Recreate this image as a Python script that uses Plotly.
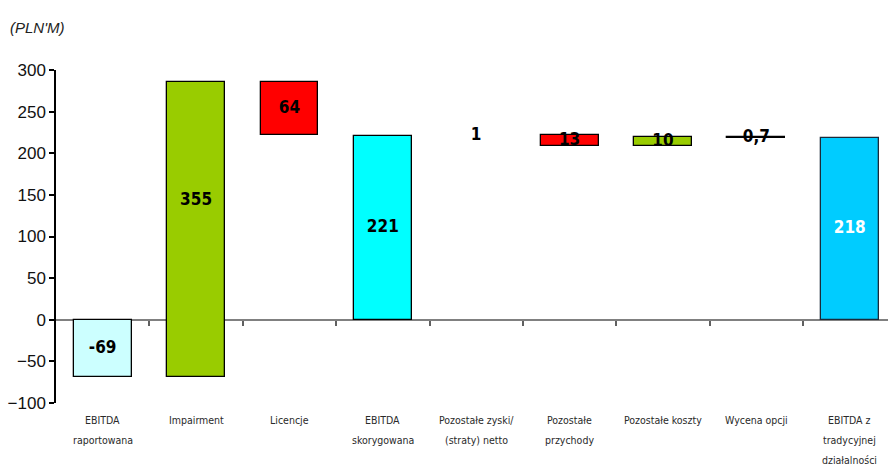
import plotly.graph_objects as go

categories = ["EBITDA<br>raportowana", "Impairment", "Licencje", "EBITDA<br>skorygowana",
              "Pozostałe zyski/<br>(straty) netto", "Pozostałe<br>przychody", "Pozostałe koszty",
              "Wycena opcji", "EBITDA z<br>tradycyjnej<br>działalności"]
values = [-69, 355, -64, 221, 1, -13, 10, -0.7, 218]
kinds = ["total", "relative", "relative", "total", "relative", "relative", "relative", "relative", "total"]
value_labels = ["-69", "355", "64", "221", "1", "13", "10", "0,7", "218"]
fill_colors = ["#CCFFFF", "#99CC00", "#FF0000", "#00FFFF", "rgba(0,0,0,0)", "#FF0000", "#99CC00", "#000000", "#00CCFF"]
line_colors = ["#000000", "#000000", "#000000", "#000000", "rgba(0,0,0,0)", "#000000", "#000000", "#000000", "#1a2a3a"]
label_colors = ["#000000"] * 8 + ["#FFFFFF"]

y_min, y_max, y_step = -100, 300, 50

NARROW = "Liberation Sans Narrow, Arial Narrow, DejaVu Sans Condensed, sans-serif"
SANS = "Liberation Sans, Arial, sans-serif"

# waterfall geometry from data
bases, heights, mids = [], [], []
running = 0.0
for v, k in zip(values, kinds):
    if k == "total":
        b, h = 0.0, v
        running = v
    else:
        b, h = running, v
        running += v
    lo, hi = sorted([b, b + h])
    if lo < 0 < hi:
        lo = 0
    bases.append(b)
    heights.append(h)
    mids.append((lo + hi) / 2)

xs = list(range(len(categories)))
boundaries = [i + 0.5 for i in xs]

fig = go.Figure()
fig.add_trace(go.Bar(
    x=xs, y=heights, base=bases, width=0.62,
    marker=dict(color=fill_colors, line=dict(color=line_colors, width=1.3)),
    hoverinfo="skip", showlegend=False,
))
fig.add_trace(go.Scatter(
    x=xs, y=mids, mode="text", text=value_labels,
    textfont=dict(family=NARROW, size=17, color=label_colors, weight="bold"),
    textposition="middle center", hoverinfo="skip", showlegend=False,
))

for i, cat in enumerate(categories):
    for j, line in enumerate(cat.split("<br>")):
        fig.add_annotation(
            x=i, y=0, xref="x", yref="paper", text=line, showarrow=False,
            yanchor="middle", yshift=-17 - 20 * j,
            font=dict(family=NARROW, size=10.5, color="#2a2a2a"),
        )

fig.add_annotation(
    x=0, y=1, xref="paper", yref="paper", text="<i>(PLN'M)</i>", showarrow=False,
    xanchor="left", yanchor="middle", xshift=-48, yshift=43,
    font=dict(family=SANS, size=15, color="#222222"),
)

fig.update_layout(
    width=888, height=467,
    margin=dict(l=56, r=0, t=70, b=64),
    paper_bgcolor="white", plot_bgcolor="white",
    bargap=0,
    xaxis=dict(
        range=[-0.5, len(categories) - 0.59],
        tickmode="array", tickvals=boundaries, ticktext=[""] * len(boundaries),
        anchor="free", position=(0 - y_min) / (y_max - y_min),
        showline=True, linecolor="#808080", linewidth=2,
        ticks="outside", ticklen=5, tickcolor="#606060", tickwidth=1.5,
        showgrid=False, zeroline=False, layer="below traces",
        showticklabels=False,
    ),
    yaxis=dict(
        range=[y_min, y_max], dtick=y_step, tick0=0,
        showline=True, linecolor="#000000", linewidth=1.5,
        ticks="outside", ticklen=5, tickcolor="#000000", tickwidth=1.5,
        showgrid=False, zeroline=False,
        tickfont=dict(family=SANS, size=17, color="#111111"),
    ),
)

fig.write_html("out.html")
